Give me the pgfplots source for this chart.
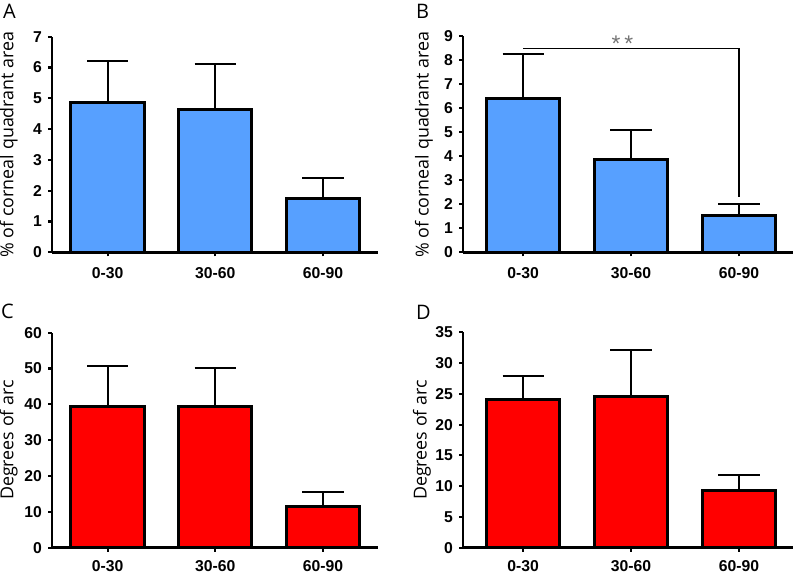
\documentclass[border=0pt]{standalone}
\usepackage{pgfplots}
\pgfplotsset{compat=1.18}
\usepackage{fontspec}
\setmainfont{Liberation Sans}
\newfontfamily\labfont{Open Sans}
\definecolor{barblue}{RGB}{87,160,255}
\definecolor{barred}{RGB}{255,0,0}
\pgfplotsset{
  panel/.style={
    scale only axis,
    anchor=south west,
    axis x line*=bottom,
    axis y line*=left,
    axis line style={line width=2.2pt,-},
    tick align=outside,
    major tick length=3pt,
    tick style={line width=1.6pt,black},
    xtick={0,1,2},
    xticklabels={0-30,30-60,60-90},
    ymin=0,
    clip=false,
    /pgf/number format/assume math mode=true,
    ticklabel style={font=\bfseries\fontsize{11.8}{13}\selectfont},
    xticklabel style={yshift=-5pt},
    yticklabel style={xshift=-1pt},
    ybar,
    bar width=0.68,
    bar shift=0pt,
  },
  bars/.style={
    draw=black, line width=2.2pt, fill=#1,
    error bars/.cd, y dir=plus, y explicit,
    error bar style={line width=1.5pt,black},
    error mark options={line width=1.5pt,black,mark size=15.4pt,rotate=90},
  },
}
\begin{document}
\begin{tikzpicture}
\useasboundingbox (0,0) rectangle (597pt,429.75pt);
% Panel A
\begin{axis}[panel, at={(39pt,240.5pt)}, width=244.5pt, height=161.7pt,
  xmin=-0.516, xmax=2.511, ymax=7, ytick={0,1,...,7}]
\addplot[bars=barblue] coordinates {(0,4.86) +- (0,1.35) (1,4.64) +- (0,1.46) (2,1.75) +- (0,0.65)};
\end{axis}
% Panel B
\begin{axis}[panel, at={(347.25pt,240.5pt)}, width=247.5pt, height=162.2pt,
  xmin=-0.556, xmax=2.5, ymax=9, ytick={0,1,...,9}]
\addplot[bars=barblue] coordinates {(0,6.41) +- (0,1.83) (1,3.88) +- (0,1.21) (2,1.52) +- (0,0.49)};
\draw[line width=0.8pt, black] (axis cs:0,8.49) -- (axis cs:2,8.49) -- (axis cs:2,2.31);
\node[text=black!55, font=\fontsize{17}{17}\selectfont] at (axis cs:0.92,8.68) {*\,*};
\end{axis}
% Panel C
\begin{axis}[panel, at={(39pt,19pt)}, width=244.5pt, height=161.25pt,
  xmin=-0.516, xmax=2.511, ymax=60, ytick={0,10,...,60},
  xticklabel style={yshift=2pt}]
\addplot[bars=barred] coordinates {(0,39.35) +- (0,11.35) (1,39.35) +- (0,10.8) (2,11.44) +- (0,4.02)};
\end{axis}
% Panel D
\begin{axis}[panel, at={(347.25pt,19pt)}, width=247.5pt, height=161.5pt,
  xmin=-0.556, xmax=2.5, ymax=35, ytick={0,5,...,35},
  xticklabel style={yshift=2pt}]
\addplot[bars=barred] coordinates {(0,24.12) +- (0,3.74) (1,24.55) +- (0,7.54) (2,9.27) +- (0,2.55)};
\end{axis}
% y labels
\node[rotate=90, font=\labfont\fontsize{13.4}{15}\selectfont] at (6.5pt,321.4pt) {\% of corneal quadrant area};
\node[rotate=90, font=\labfont\fontsize{13.4}{15}\selectfont] at (318pt,321.4pt) {\% of corneal quadrant area};
\node[rotate=90, font=\labfont\fontsize{13.4}{15}\selectfont] at (6.5pt,99.75pt) {Degrees of arc};
\node[rotate=90, font=\labfont\fontsize{13.4}{15}\selectfont] at (316.5pt,99.75pt) {Degrees of arc};
% panel letters
\node[font=\labfont\fontsize{15}{15}\selectfont] at (7.1pt,421.5pt) {A};
\node[font=\labfont\fontsize{15}{15}\selectfont] at (316.9pt,421.5pt) {B};
\node[font=\labfont\fontsize{15}{15}\selectfont] at (5.6pt,196.5pt) {C};
\node[font=\labfont\fontsize{15}{15}\selectfont] at (317.6pt,195.75pt) {D};
\end{tikzpicture}
\end{document}
